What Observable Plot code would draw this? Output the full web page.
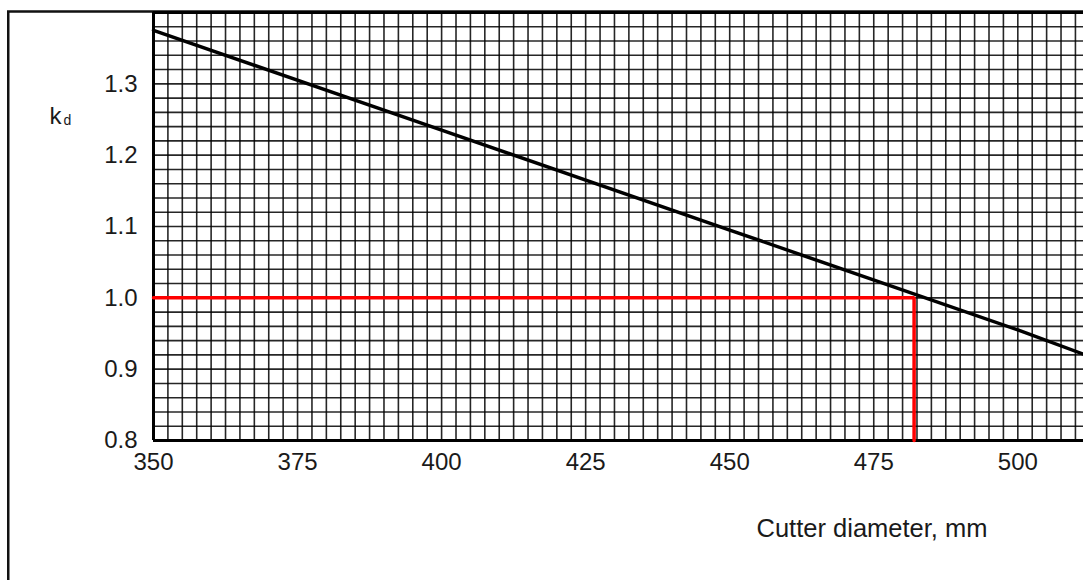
<!DOCTYPE html>
<html>
<head>
<meta charset="utf-8">
<script src="https://cdn.jsdelivr.net/npm/d3@7"></script>
<script src="https://cdn.jsdelivr.net/npm/@observablehq/plot@0.6"></script>
<style>
  html, body { margin: 0; padding: 0; background: #fff; overflow: hidden; }
  #chart svg { display: block; }
</style>
</head>
<body>
<div id="chart"></div>
<script>
// Correction factor k_d against cutter diameter (mm)
const diameters = [350, 400, 450, 500, 511.4];
const kd = [1.375, 1.235, 1.095, 0.955, 0.921];

// Reading for the nominal factor 1.0
const refDiameter = 482;
const refFactor = 1.0;

// Axis tick labels
const xTicks = [350, 375, 400, 425, 450, 475, 500];
const yTicks = [0.8, 0.9, 1.0, 1.1, 1.2, 1.3];

const xDomain = [350, 511.4];
const yDomain = [0.8, 1.4];

const series = diameters.map((d, i) => ({d, k: kd[i]}));
const refPath = [
  {d: xDomain[0], k: refFactor},
  {d: refDiameter, k: refFactor},
  {d: refDiameter, k: yDomain[0]}
];

// Graph-paper grid: 2.5 mm by 0.02
const xGrid = d3.range(xDomain[0], xDomain[1] + 1e-9, 2.5);
const yGrid = d3.range(0, 31).map(i => +(yDomain[0] + i * 0.02).toFixed(2));

// Outer page frame drawn around the whole figure
const outerFrame = (index, scales, values, dims) =>
  d3.create("svg:rect")
    .attr("x", 8.25).attr("y", 11.5)
    .attr("width", dims.width + 100).attr("height", dims.height + 100)
    .attr("fill", "none").attr("stroke", "#111").attr("stroke-width", 2.5)
    .node();

const chart = Plot.plot({
  width: 1083,
  height: 580,
  marginLeft: 153,
  marginTop: 12,
  marginRight: 0,
  marginBottom: 140,
  style: {fontFamily: "'Liberation Sans', Arial, sans-serif", fontSize: "24px", color: "#1a1a1a", background: "#fff"},
  x: {domain: xDomain},
  y: {domain: yDomain},
  marks: [
    outerFrame,
    Plot.ruleX(xGrid, {stroke: "#000", strokeWidth: 1.6, strokeOpacity: 0.85}),
    Plot.ruleY(yGrid, {stroke: "#000", strokeWidth: 1.6, strokeOpacity: 0.85}),
    Plot.ruleX([xDomain[0]], {stroke: "#000", strokeWidth: 3}),
    Plot.ruleY([yDomain[0], yDomain[1]], {stroke: "#000", strokeWidth: 3}),
    Plot.line(series, {x: "d", y: "k", stroke: "#000", strokeWidth: 3.5}),
    Plot.line(refPath, {x: "d", y: "k", stroke: "#ff0000", strokeWidth: 3.5, strokeLinejoin: "miter"}),
    Plot.axisX(xTicks, {tickSize: 0, tickPadding: 12, fontSize: 24, label: null}),
    Plot.axisY(yTicks, {tickSize: 0, tickPadding: 16, fontSize: 24, label: null, tickFormat: d3.format(".1f")}),
    Plot.text(["Cutter diameter, mm"], {frameAnchor: "bottom-right", dx: -96, dy: 96, textAnchor: "end", fontSize: 25.5, fill: "#1a1a1a"}),
    Plot.text(["k"], {frameAnchor: "top-left", dx: -104, dy: 94, textAnchor: "start", fontSize: 24, fill: "#1a1a1a"}),
    Plot.text(["d"], {frameAnchor: "top-left", dx: -90, dy: 103, textAnchor: "start", fontSize: 14, fill: "#1a1a1a"})
  ]
});

document.getElementById("chart").append(chart);
</script>
</body>
</html>
